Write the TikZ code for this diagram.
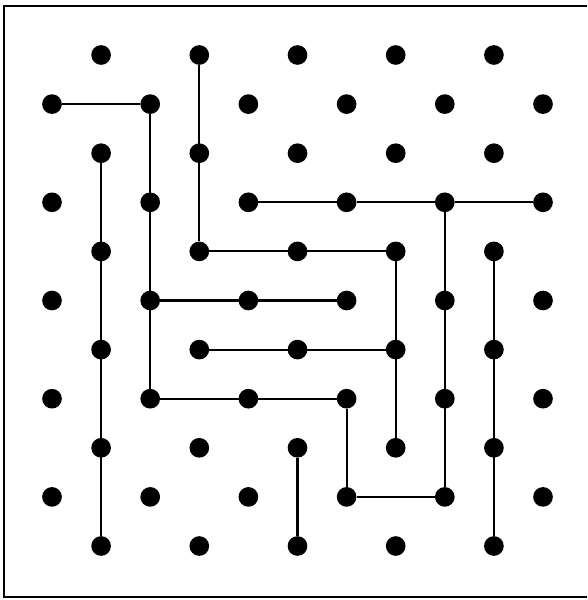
\documentclass[tikz,border=0pt]{standalone}
\usepackage{tikz}
\tikzset{
    peg/.style={circle, fill=black, inner sep=0pt, minimum size=16.8pt},
    link/.style={line width=1.8pt, black, line join=miter},
    frameline/.style={line width=1.5pt, black},
}

\begin{document}
\begin{tikzpicture}[x=0.03cm, y=-0.03cm]
                \useasboundingbox (0,0) rectangle (587,600);
                % frame (open on the right)
                \draw[frameline] (587,6) -- (4,6) -- (4,597) -- (587,597);
                % staggered pegs, named p-column-row
                \foreach \r in {0,...,10}{
                    \foreach \c in {0,...,10}{
                        \ifodd\numexpr\r+\c\relax
                            \node[peg] (p-\c-\r) at ({52+49.1*\c},{55+49.1*\r}) {};
                        \fi
                    }
                }
                % paths between pegs
                \draw[link] (p-0-1) -- (p-2-1) -- (p-2-7) -- (p-6-7) -- (p-6-9) -- (p-8-9) -- (p-8-3);
                \draw[link] (p-4-3) -- (p-6-3) -- (p-8-3) -- (p-10-3);
                \draw[link] (p-3-0) -- (p-3-4) -- (p-7-4) -- (p-7-8);
                \draw[link] (p-1-2) -- (p-1-10);
                \draw[link] (p-2-5) -- (p-6-5);
                \draw[link] (p-3-6) -- (p-7-6);
                \draw[link] (p-5-8) -- (p-5-10);
                \draw[link] (p-9-4) -- (p-9-10);
            \end{tikzpicture}
\end{document}
